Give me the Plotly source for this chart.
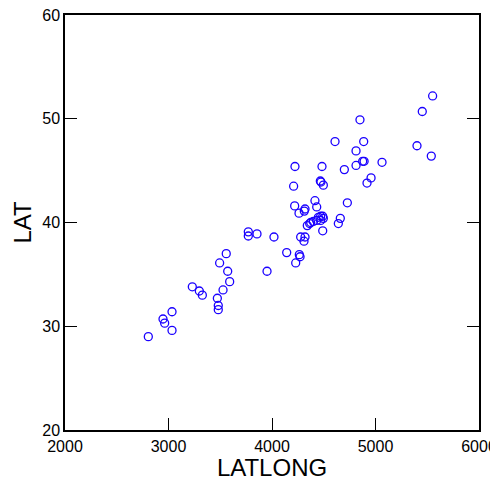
import plotly.graph_objects as go

latlong = [2805, 2947, 2963, 3034, 3034, 3230, 3298, 3327, 3472, 3481, 3481, 3494,
           3527, 3558, 3572, 3591, 3771, 3771, 3855, 3952, 4019, 4142, 4229, 4264,
           4271, 4277, 4319, 4309, 4222, 4209, 4219, 4261, 4319, 4312, 4415, 4432,
           4448, 4470, 4490, 4496, 4470, 4432, 4399, 4374, 4341, 4364, 4490, 4660,
           4641, 4728, 4467, 4473, 4496, 4483, 4609, 4699, 4812, 4812, 4876, 4890,
           4886, 4850, 4918, 4957, 5063, 5401, 5539, 5452, 5552]
lat = [29.0, 30.7, 30.3, 31.4, 29.6, 33.8, 33.4, 33.0, 32.7, 32.0, 31.6, 36.1,
       33.5, 37.0, 35.3, 34.3, 39.1, 38.7, 38.9, 35.3, 38.6, 37.1, 36.1, 36.9,
       36.7, 38.6, 38.6, 38.2, 45.4, 43.5, 41.6, 40.9, 41.3, 41.1, 42.1, 41.5,
       40.5, 40.6, 40.6, 40.4, 40.2, 40.2, 40.1, 40.0, 39.7, 39.9, 39.2, 40.4,
       39.9, 41.9, 44.0, 43.9, 43.6, 45.4, 47.8, 45.1, 46.9, 45.5, 45.9, 45.9,
       47.8, 49.9, 43.8, 44.3, 45.8, 47.4, 46.4, 50.7, 52.2]

x_ticks = [2000, 3000, 4000, 5000, 6000]
y_ticks = [20, 30, 40, 50, 60]

fig = go.Figure()
fig.add_trace(go.Scatter(
    x=latlong, y=lat, mode="markers",
    marker=dict(symbol="circle-open", size=8, color="#1a00ff",
                line=dict(width=1.3, color="#1a00ff")),
    showlegend=False,
))

font = "Liberation Sans, Arial, sans-serif"
# page body has an 8px default margin, so the figure is sized to fit the window
fig.update_layout(
    width=490, height=473,
    margin=dict(l=57, r=19, t=7, b=51),
    paper_bgcolor="white", plot_bgcolor="white",
    font=dict(family=font, color="black", size=16),
    xaxis=dict(
        range=[2000, 6000], tickvals=x_ticks, ticks="inside", ticklen=12,
        tickcolor="black", showline=True, linecolor="black", linewidth=1.5,
        mirror=True, showgrid=False, zeroline=False, automargin=False,
        title=dict(text="LATLONG", font=dict(size=24), standoff=2),
        tickfont=dict(size=16), ticklabelstandoff=1, ticklabeloverflow="allow",
    ),
    yaxis=dict(
        range=[20, 60], tickvals=y_ticks, ticks="inside", ticklen=12,
        tickcolor="black", showline=True, linecolor="black", linewidth=1.5,
        mirror="ticks", showgrid=False, zeroline=False, automargin=False,
        title=dict(text="LAT", font=dict(size=24), standoff=4),
        tickfont=dict(size=16), ticklabeloverflow="allow",
    ),
)

fig.write_html("out.html")
